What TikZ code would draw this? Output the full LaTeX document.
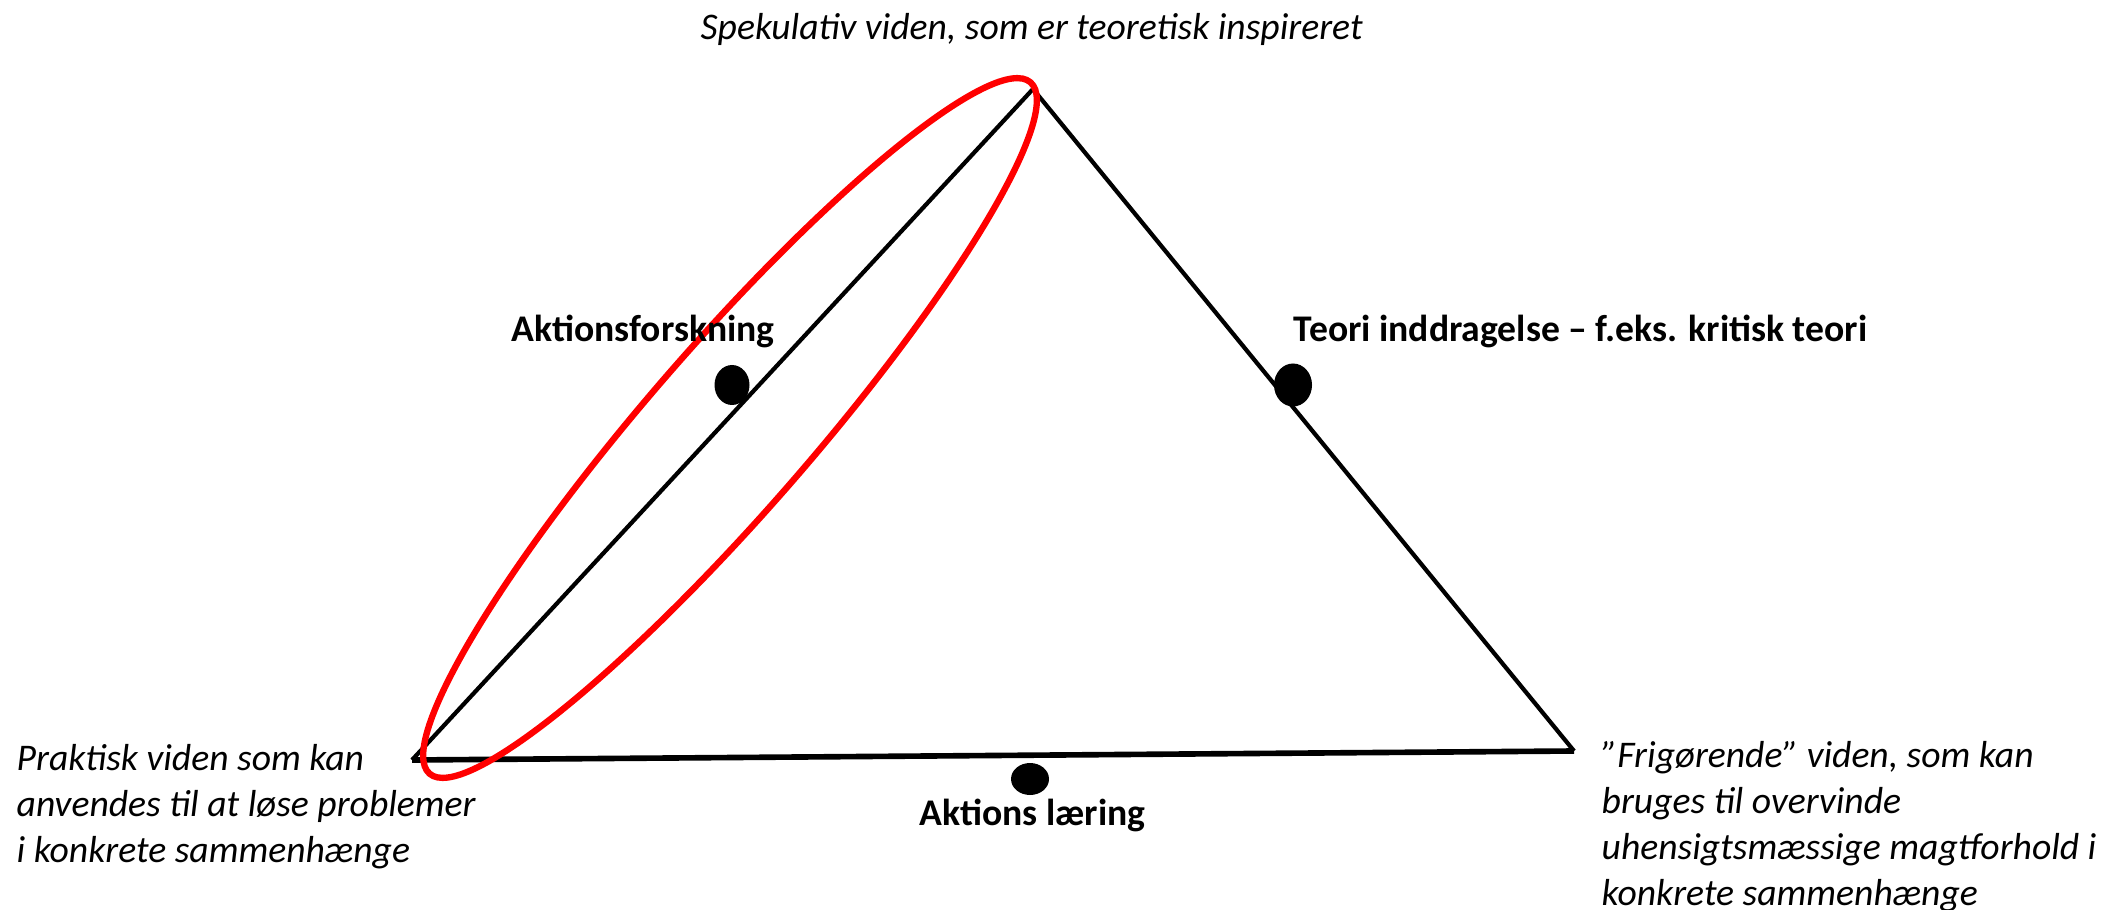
\documentclass[tikz,border=0pt]{standalone}
\usepackage{fontspec}
\setmainfont{Carlito}
\usetikzlibrary{positioning}
\begin{document}
\begin{tikzpicture}[x=0.01cm,y=-0.01cm,
  lbl/.style={font=\fontsize{10.7}{13}\selectfont\bfseries, inner sep=0pt, anchor=base west},
  note/.style={font=\fontsize{10.7}{13}\selectfont\itshape, inner sep=0pt, anchor=base west, align=left},
  dot/.style={fill=black}]
\useasboundingbox (0,0) rectangle (2119,910);
\coordinate (top) at (1033,89);
\coordinate (left) at (412,760);
\coordinate (right) at (1574,751);
\draw[line width=1.2pt, line join=miter] (left) -- (top) -- (right);   % sides
\draw[line width=1.6pt] (left) -- (right);                             % base
\fill[dot] (732,385) ellipse (17.5 and 20);
\fill[dot] (1293,385) ellipse (19 and 21.5);
\fill[dot] (1030,779) ellipse (19 and 16);
\draw[red, line width=1.8pt, rotate around={49:(730,428)}] (730,428) ellipse (458 and 82);
\node[note] (spek) at (700,40) {Spekulativ viden, som er teoretisk inspireret};
\node[lbl] (forsk) at (511,342) {Aktionsforskning};
\node[lbl] (teori) at (1293,342) {Teori inddragelse – f.eks. kritisk teori};
\node[lbl] (laering) at (919,825) {Aktions læring};
\node[note] (prakt) at (16,862) {Praktisk viden som kan\\anvendes til at løse problemer\\i konkrete sammenhænge};
\node[note] (frig) at (1601,905) {”Frigørende” viden, som kan\\bruges til overvinde\\uhensigtsmæssige magtforhold i\\konkrete sammenhænge};
\end{tikzpicture}
\end{document}
